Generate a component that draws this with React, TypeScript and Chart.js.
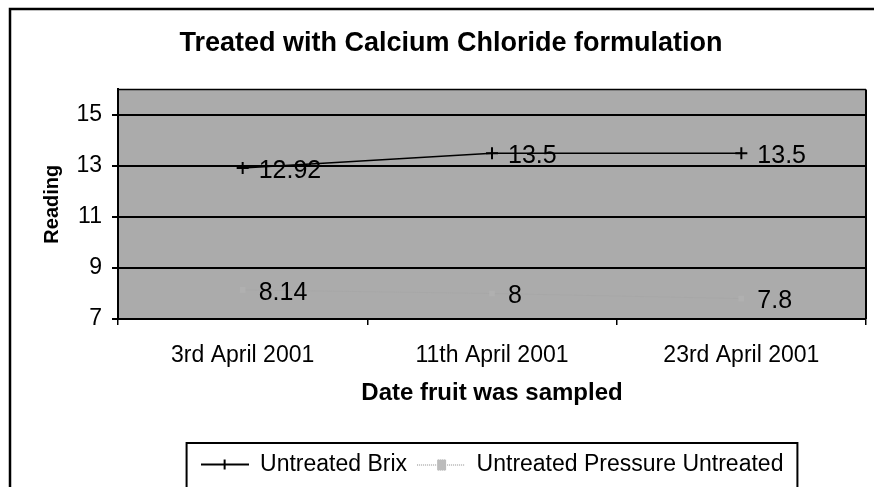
import React, { useEffect, useRef } from 'react';
import { Chart, registerables } from 'chart.js';

Chart.register(...registerables);

// ---- data ----
const categories = ['3rd April 2001', '11th April 2001', '23rd April 2001'];
const brixValues = [12.92, 13.5, 13.5];
const pressureValues = [8.14, 8, 7.8];
const seriesNames = ['Untreated Brix', 'Untreated Pressure Untreated'];
const yMin = 7;
const yMax = 16;
const yTicks = [7, 9, 11, 13, 15];
const titleText = 'Treated with Calcium Chloride formulation';
const xTitleText = 'Date fruit was sampled';
const yTitleText = 'Reading';

const FONT = '"Liberation Sans", Arial, Helvetica, sans-serif';
const W = 874;
const H = 487;

function makeSample(kind: number): HTMLCanvasElement {
  const c = document.createElement('canvas');
  c.width = 48;
  c.height = 16;
  const g = c.getContext('2d') as CanvasRenderingContext2D;
  if (kind === 0) {
    g.strokeStyle = '#000';
    g.lineWidth = 2;
    g.beginPath();
    g.moveTo(0, 8);
    g.lineTo(48, 8);
    g.moveTo(24, 3);
    g.lineTo(24, 13);
    g.stroke();
  } else {
    g.fillStyle = '#8a8a8a';
    for (let x = 0; x < 48; x += 2) g.fillRect(x, 8, 1, 1);
    for (let y = 3; y < 14; y++) {
      for (let x = 20; x < 29; x++) {
        g.fillStyle = (x + y) % 2 === 0 ? '#9a9a9a' : '#dddddd';
        g.fillRect(x, y, 1, 1);
      }
    }
  }
  return c;
}

const decorPlugin = {
  id: 'decor',
  beforeDraw(chart: any) {
    const { ctx, chartArea: a } = chart;
    ctx.save();
    ctx.fillStyle = '#ffffff';
    ctx.fillRect(0, 0, chart.width, chart.height);
    ctx.fillStyle = '#ababab';
    ctx.fillRect(a.left, a.top, a.right - a.left, a.bottom - a.top);
    ctx.restore();
  },
  afterDraw(chart: any) {
    const { ctx, chartArea: a } = chart;
    ctx.save();
    ctx.strokeStyle = '#000';
    ctx.lineWidth = 1.5;
    ctx.beginPath();
    ctx.moveTo(a.left, a.top);
    ctx.lineTo(a.right, a.top);
    ctx.stroke();
    ctx.lineWidth = 2;
    ctx.beginPath();
    ctx.moveTo(a.right, a.top);
    ctx.lineTo(a.right, a.bottom);
    ctx.stroke();
    // outer chart frame
    ctx.lineWidth = 2.5;
    ctx.beginPath();
    ctx.moveTo(10, chart.height + 5);
    ctx.lineTo(10, 9);
    ctx.lineTo(chart.width + 5, 9);
    ctx.stroke();
    // legend box
    const lg = chart.legend;
    if (lg && lg.legendHitBoxes && lg.legendHitBoxes.length) {
      const hb = lg.legendHitBoxes;
      const l = hb[0].left - 14;
      const last = hb[hb.length - 1];
      const r = last.left + last.width + 14;
      const t = lg.top;
      ctx.lineWidth = 2;
      ctx.beginPath();
      ctx.moveTo(l, chart.height + 5);
      ctx.lineTo(l, t);
      ctx.lineTo(r, t);
      ctx.lineTo(r, chart.height + 5);
      ctx.stroke();
    }
    ctx.restore();
  },
  afterDatasetsDraw(chart: any) {
    const { ctx } = chart;
    ctx.save();
    ctx.fillStyle = '#000';
    ctx.font = `25px ${FONT}`;
    ctx.textAlign = 'left';
    ctx.textBaseline = 'middle';
    chart.data.datasets.forEach((ds: any, i: number) => {
      const meta = chart.getDatasetMeta(i);
      meta.data.forEach((el: any, j: number) => {
        ctx.fillText(String(ds.data[j]), el.x + 16, el.y + 3);
      });
    });
    ctx.restore();
  },
};

export default function App() {
  const ref = useRef<HTMLCanvasElement | null>(null);

  useEffect(() => {
    if (!ref.current) return;
    const samples = [makeSample(0), makeSample(1)];
    const chart = new Chart(ref.current, {
      type: 'line',
      data: {
        labels: categories,
        datasets: [
          {
            label: seriesNames[0],
            data: brixValues,
            borderColor: '#000',
            borderWidth: 1.5,
            pointStyle: 'cross',
            pointRadius: 6,
            pointBorderWidth: 2,
            pointBorderColor: '#000',
            pointBackgroundColor: '#000',
            tension: 0,
          },
          {
            label: seriesNames[1],
            data: pressureValues,
            borderColor: 'rgba(165,165,165,0.6)',
            borderWidth: 1,
            pointStyle: 'rect',
            pointRadius: 4,
            pointBorderWidth: 0,
            pointBackgroundColor: '#b0b0b0',
            tension: 0,
          },
        ],
      },
      options: {
        responsive: false,
        animation: false,
        devicePixelRatio: 1,
        layout: { padding: { left: 24, right: -4, top: 0, bottom: 1 } },
        plugins: {
          title: {
            display: true,
            text: titleText,
            color: '#000',
            font: { family: FONT, size: 27, weight: 'bold' },
            padding: { top: 27, bottom: 30 },
          },
          legend: {
            display: true,
            position: 'bottom',
            fullSize: false,
            labels: {
              color: '#000',
              font: { family: FONT, size: 23 },
              usePointStyle: true,
              pointStyleWidth: 48,
              padding: 10,
              generateLabels: (c: any) => {
                const items = Chart.defaults.plugins.legend.labels.generateLabels(c);
                items.forEach((it: any, i: number) => {
                  it.pointStyle = samples[i];
                });
                return items;
              },
            },
          },
          tooltip: { enabled: false },
        },
        scales: {
          x: {
            type: 'category',
            offset: true,
            afterFit: (s: any) => {
              s.height = 124;
            },
            grid: {
              offset: true,
              drawOnChartArea: false,
              drawTicks: true,
              tickLength: 6,
              color: '#000',
              lineWidth: 1.5,
            },
            border: { display: true, color: '#000', width: 2 },
            ticks: {
              color: '#000',
              font: { family: FONT, size: 23 },
              padding: 17,
              maxRotation: 0,
              autoSkip: false,
            },
            title: {
              display: true,
              text: xTitleText,
              color: '#000',
              font: { family: FONT, size: 24, weight: 'bold' },
              padding: { top: 0, bottom: 35 },
            },
          },
          y: {
            type: 'linear',
            min: yMin,
            max: yMax,
            afterFit: (s: any) => {
              s.width = 94;
            },
            afterBuildTicks: (s: any) => {
              s.ticks = yTicks.map((v) => ({ value: v }));
            },
            grid: {
              color: '#000',
              lineWidth: 2,
              drawTicks: true,
              tickLength: 6,
            },
            border: { display: true, color: '#000', width: 2 },
            ticks: {
              color: '#000',
              font: { family: FONT, size: 23 },
              padding: 10,
            },
            title: {
              display: true,
              text: yTitleText,
              color: '#000',
              font: { family: FONT, size: 20, weight: 'bold' },
              padding: { top: 16, bottom: 0 },
            },
          },
        },
      },
      plugins: [decorPlugin],
    } as any);
    return () => chart.destroy();
  }, []);

  return (
    <div style={{ position: 'fixed', left: 0, top: 0, width: W, height: H, background: '#fff' }}>
      <canvas ref={ref} width={W} height={H} style={{ display: 'block', width: W, height: H }} />
    </div>
  );
}
